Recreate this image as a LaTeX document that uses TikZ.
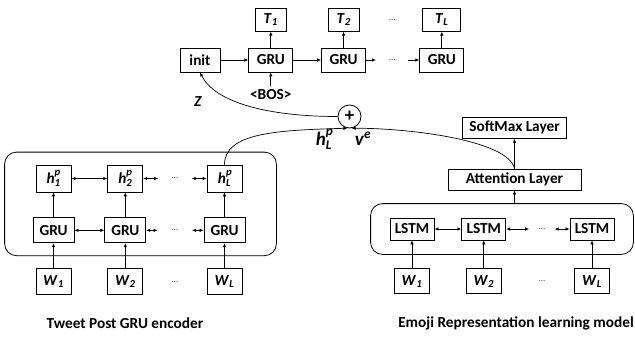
\documentclass[tikz,border=0pt]{standalone}
\usepackage{fontspec}
\setmainfont{Carlito}
\usetikzlibrary{fit}
\usetikzlibrary{arrows.meta}
\usetikzlibrary{positioning}
\usetikzlibrary{calc}

\newcommand{\wsub}[2]{\textit{#1}\textsubscript{\textit{#2}}}
\newcommand{\hsupsub}[3]{\textit{#1}\rlap{\raisebox{0.35ex}{\textsuperscript{\textit{#2}}}}\raisebox{-0.2ex}{\textsubscript{\textit{#3}}}}

\begin{document}
\begin{tikzpicture}[
    x=1pt, y=1pt,
    every node/.style={font=\bfseries\fontsize{15.3}{17}\selectfont},
    box/.style={draw, line width=0.8pt, inner sep=0pt, minimum height=24pt, minimum width=44pt},
    tbox/.style={box, minimum width=31pt, minimum height=23pt},
    wbox/.style={box, minimum width=35pt, minimum height=26pt},
    hbox/.style={box, minimum width=35pt, minimum height=27pt},
    dots/.style={inner sep=0pt, minimum height=10pt, text=black!70, font=\fontsize{9}{10}\selectfont},
    frame/.style={draw, line width=0.8pt, rounded corners=12pt},
    arr/.style={-{Latex[length=4pt,width=3.5pt]}, line width=0.7pt},
    darr/.style={{Latex[length=4pt,width=3.5pt]}-{Latex[length=4pt,width=3.5pt]}, line width=0.7pt},
    big/.style={anchor=base, font=\bfseries\fontsize{19}{21}\selectfont}
    ]
    \useasboundingbox (0,0) rectangle (635,-337);

    % decoder
    \node[box, minimum width=40pt] (init) at (200,-60) {init};
    \node[box] (g1) [right=28pt of init] {GRU};
    \node[box] (g2) [right=28pt of g1] {GRU};
    \node[dots, minimum width=32pt] (gd) [right=10pt of g2] {\dots};
    \node[box] (gL) [right=11pt of gd] {GRU};
    \node[tbox] (t1) [above=16pt of g1] {\wsub{T}{1}};
    \node[tbox] (t2) [above=16pt of g2] {\wsub{T}{2}};
    \node[dots] (td) at (gd |- t2) {\dots};
    \node[tbox, minimum width=38pt] (tL) [above=16pt of gL] {\wsub{T}{L}};
    \node (bos) [below=14pt of g1] {\textless BOS\textgreater};
    \node (z) at (198,-102) {\textit{Z}};

    \draw[arr] (init) -- (g1);
    \draw[arr] (g1) -- (g2);
    \draw[arr] (g2) -- (gd);
    \draw[arr] (gd) -- (gL);
    \draw[arr] (g1) -- (t1);
    \draw[arr] (g2) -- (t2);
    \draw[arr] (gL) -- (tL);
    \draw[arr] (bos) -- (g1);

    % tweet post encoder
    \node[hbox] (hp1) at (53.5,-178.5) {\hsupsub{h}{p}{1}};
    \node[hbox] (hp2) [right=36pt of hp1] {\hsupsub{h}{p}{2}};
    \node[dots, minimum width=33pt] (hd) [right=15pt of hp2] {\dots};
    \node[hbox] (hpL) [right=15pt of hd] {\hsupsub{h}{p}{L}};
    \node[box, minimum width=41pt, minimum height=25pt] (eg1) [below=25pt of hp1] {GRU};
    \node[box, minimum width=41pt, minimum height=25pt] (eg2) [below=25pt of hp2] {GRU};
    \node[box, minimum width=41pt, minimum height=25pt] (egL) [below=25pt of hpL] {GRU};
    \node[dots, minimum width=34pt] (ed) at (hd |- eg2) {\dots};
    \node[wbox] (w1) [below=25pt of eg1] {\wsub{W}{1}};
    \node[wbox] (w2) [below=25pt of eg2] {\wsub{W}{2}};
    \node[wbox] (wL) [below=25pt of egL] {\wsub{W}{L}};
    \node[dots] (wd) at (hd |- w2) {\dots};
    \node[frame, fit=(hp1)(egL), inner xsep=31pt, inner ysep=12.5pt] (enc) {};
    \node (enccap) at (125,-323) {Tweet Post GRU encoder};

    \draw[darr] (hp1) -- (hp2);
    \draw[darr] (hp2) -- (hd);
    \draw[darr] (hd) -- (hpL);
    \draw[darr] (eg1) -- (eg2);
    \draw[darr] (eg2) -- (ed);
    \draw[darr] (ed) -- (egL);
    \draw[arr] (eg1) -- (hp1);
    \draw[arr] (eg2) -- (hp2);
    \draw[arr] (egL) -- (hpL);
    \draw[arr] (w1) -- (eg1);
    \draw[arr] (w2) -- (eg2);
    \draw[arr] (wL) -- (egL);

    % emoji representation model
    \node[box, minimum height=22pt] (ls1) at (412,-229) {LSTM};
    \node[box, minimum height=22pt] (ls2) [right=27pt of ls1] {LSTM};
    \node[dots, minimum width=25pt] (ld) [right=23pt of ls2] {\dots};
    \node[box, minimum height=22pt] (lsL) [right=15pt of ld] {LSTM};
    \node[wbox, minimum height=25pt] (ew1) [below=28pt of ls1] {\wsub{W}{1}};
    \node[wbox, minimum height=25pt] (ew2) [below=28pt of ls2] {\wsub{W}{2}};
    \node[wbox, minimum height=25pt] (ewL) [below=28pt of lsL] {\wsub{W}{L}};
    \node[dots] (ewd) at (ld |- ew2) {\dots};
    \node[frame, fit=(ls1)(lsL), inner xsep=19pt, inner ysep=14pt] (emo) {};
    \node[box, minimum width=133pt, minimum height=21pt] (att) at (514.5,-179.5) {Attention Layer};
    \node[box, minimum width=104pt, minimum height=21pt] (soft) [above=30pt of att] {SoftMax Layer};
    \node (emocap) at (516,-323) {Emoji Representation learning model};

    \draw[darr] (ls1) -- (ls2);
    \draw[darr] (ls2) -- (ld);
    \draw[darr] (ld) -- (lsL);
    \draw[arr] (ew1) -- (ls1);
    \draw[arr] (ew2) -- (ls2);
    \draw[arr] (ewL) -- (lsL);
    \draw[arr] (emo.north -| att) -- (att);
    \draw[arr] (att) -- (soft);

    % merge
    \node[draw, circle, line width=0.8pt, minimum size=23pt, inner sep=0pt, font=\bfseries\fontsize{19}{21}\selectfont] (plus) at (349.5,-116.5) {+};
    \node[big] (hlab) at (324,-145) {\hsupsub{h}{p}{L}};
    \node[big] (vlab) at (363,-145) {\textit{v}\textsuperscript{\textit{e}}};

    \draw[arr] (hpL.north) .. controls +(0,32) and +(-70,-2) .. (plus.-100);
    \draw[arr] (att.north) .. controls +(-6,28) and +(60,0) .. (plus.-80);
    \draw[arr] (plus.west) .. controls +(-70,0) and +(15,-30) .. (init.south);
\end{tikzpicture}
\end{document}
